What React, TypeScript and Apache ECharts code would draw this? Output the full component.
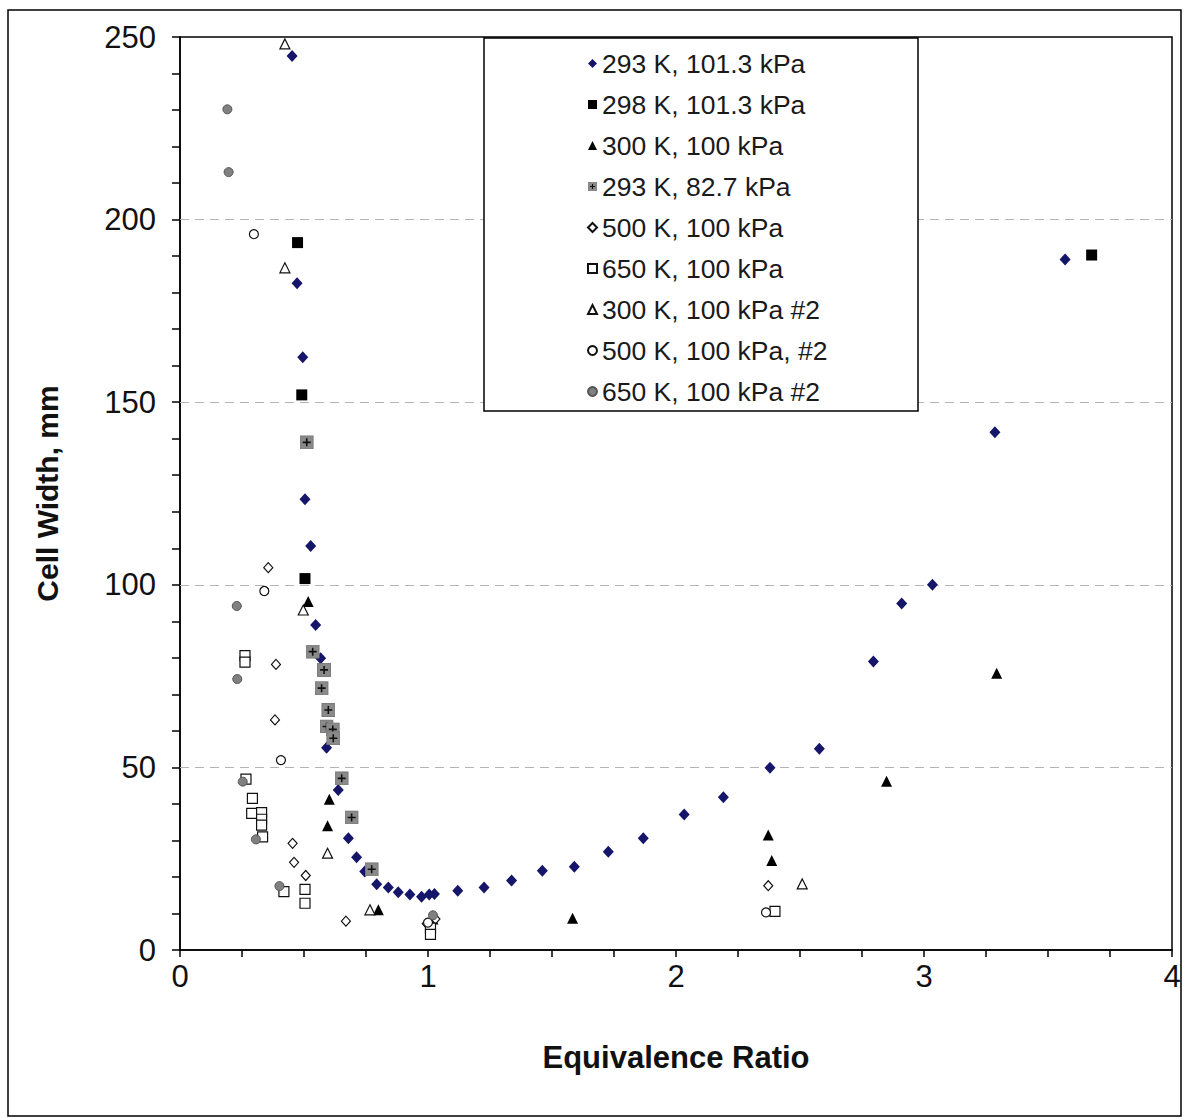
import React, { useEffect, useRef } from "react";
import * as echarts from "echarts";

const FONT = "'Liberation Sans', Arial, sans-serif";

const seriesNames = [
  "293 K, 101.3 kPa",
  "298 K, 101.3 kPa",
  "300 K, 100 kPa",
  "293 K, 82.7 kPa",
  "500 K, 100 kPa",
  "650 K, 100 kPa",
  "300 K, 100 kPa #2",
  "500 K, 100 kPa, #2",
  "650 K, 100 kPa #2",
];

const xTicks = [0, 1, 2, 3, 4];
const yTicks = [0, 50, 100, 150, 200, 250];
const gridValues = [50, 100, 150, 200];

const s293_1013 = [
  [0.452, 244.8], [0.472, 182.6], [0.495, 162.3], [0.504, 123.4], [0.527, 110.6],
  [0.547, 89.0], [0.567, 79.9], [0.591, 55.4], [0.638, 43.8], [0.679, 30.6],
  [0.712, 25.4], [0.745, 21.5], [0.793, 18.0], [0.84, 17.1], [0.88, 15.8], [0.927, 15.2],
  [0.974, 14.6], [1.005, 15.2], [1.026, 15.3], [1.12, 16.2], [1.226, 17.1],
  [1.337, 19.0], [1.461, 21.7], [1.59, 22.8], [1.727, 26.9], [1.868, 30.6],
  [2.033, 37.1], [2.191, 41.8], [2.379, 49.9], [2.578, 55.1], [2.796, 79.0],
  [2.91, 94.9], [3.034, 100.0], [3.286, 141.8], [3.569, 189.1],
];
const s298_1013 = [[0.474, 193.7], [0.491, 152.0], [0.504, 101.7], [3.676, 190.3]];
const s300_100 = [
  [0.517, 95.4], [0.602, 41.3], [0.595, 34.0], [0.8, 11.0], [1.02, 8.5],
  [1.583, 8.7], [2.372, 31.5], [2.386, 24.5], [2.849, 46.2], [3.293, 75.8],
];
const s293_827 = [
  [0.511, 139.0], [0.535, 81.7], [0.581, 76.7], [0.571, 71.7], [0.598, 65.7],
  [0.591, 61.2], [0.616, 60.4], [0.618, 58.0], [0.652, 47.0], [0.692, 36.3], [0.773, 22.1],
];
const s500_100 = [
  [0.356, 104.7], [0.387, 78.2], [0.383, 63.0], [0.454, 29.2], [0.46, 24.0],
  [0.507, 20.4], [0.669, 7.9], [0.995, 7.2], [1.03, 8.5], [2.372, 17.6],
];
const s650_100 = [
  [0.262, 80.6], [0.262, 78.8], [0.266, 46.8], [0.292, 41.5], [0.289, 37.4],
  [0.329, 37.6], [0.329, 35.8], [0.329, 34.2], [0.333, 31.0], [0.419, 16.0],
  [0.504, 16.6], [0.504, 12.8], [1.01, 6.0], [1.01, 4.3], [2.399, 10.6],
];
const s300_100_2 = [[0.423, 248.1], [0.423, 186.8], [0.497, 93.1], [0.595, 26.5], [0.766, 11.0], [2.509, 18.1]];
const s500_100_2 = [[0.298, 196.0], [0.34, 98.3], [0.407, 52.0], [1.0, 7.5], [2.363, 10.3]];
const s650_100_2 = [
  [0.191, 230.2], [0.196, 213.0], [0.229, 94.2], [0.231, 74.2], [0.253, 46.1],
  [0.306, 30.3], [0.401, 17.5], [1.02, 9.5],
];

const plusSvg =
  "<svg xmlns='http://www.w3.org/2000/svg' width='14' height='14' viewBox='0 0 14 14'>" +
  "<rect x='0.5' y='0.5' width='13' height='13' fill='#8a8a8a' stroke='#777'/>" +
  "<path d='M7 3V11M3 7H11' stroke='#111' stroke-width='1.6'/></svg>";
const plusSymbol = "image://data:image/svg+xml;charset=utf-8," + encodeURIComponent(plusSvg);

export default function App() {
  const ref = useRef<HTMLDivElement>(null);
  useEffect(() => {
    document.body.style.margin = "0";
    const chart = echarts.init(ref.current!, null, { renderer: "svg" });
    const open = { color: "#fff", borderColor: "#111", borderWidth: 1.2, opacity: 1 };
    const option: any = {
      animation: false,
      backgroundColor: "#fff",
      textStyle: { fontFamily: FONT },
      grid: {
        left: 180, top: 37, right: 13, bottom: 168,
        show: true, borderColor: "#000", borderWidth: 1.5, backgroundColor: "transparent",
      },
      xAxis: {
        type: "value", min: 0, max: 4, interval: 0.25,
        name: "Equivalence Ratio", nameLocation: "middle", nameGap: 92,
        nameTextStyle: { fontSize: 31, fontWeight: "bold", color: "#111", fontFamily: FONT },
        axisLine: { lineStyle: { color: "#000", width: 1.5 } },
        axisTick: { show: true, length: 7, lineStyle: { color: "#000", width: 1.5 } },
        axisLabel: {
          margin: 11, fontSize: 31, color: "#111", fontFamily: FONT,
          formatter: (v: number) => (xTicks.includes(v) ? String(v) : ""),
        },
        splitLine: { show: false },
      },
      yAxis: {
        type: "value", min: 0, max: 250, interval: 10,
        name: "Cell Width, mm", nameLocation: "middle", nameGap: 118,
        nameTextStyle: { fontSize: 30, fontWeight: "bold", color: "#111", fontFamily: FONT },
        axisLine: { lineStyle: { color: "#000", width: 1.5 } },
        axisTick: { show: true, length: 8, lineStyle: { color: "#000", width: 1.5 } },
        axisLabel: {
          margin: 24, fontSize: 31, color: "#111", fontFamily: FONT,
          formatter: (v: number) => (yTicks.includes(v) ? String(v) : ""),
        },
        splitLine: { show: false },
      },
      legend: {
        orient: "vertical", left: 587, top: 50, padding: 0,
        itemWidth: 9, itemHeight: 9, itemGap: 14,
        textStyle: { fontSize: 26.5, color: "#1a1a1a", fontFamily: FONT, lineHeight: 27 },
        data: seriesNames,
        z: 6,
      },
      graphic: [
        { type: "rect", shape: { x: 8, y: 10, width: 1173, height: 1106 }, style: { fill: "none", stroke: "#000", lineWidth: 1.5 }, z: 0, silent: true },
        { type: "rect", shape: { x: 484, y: 38, width: 434, height: 373 }, style: { fill: "#fff", stroke: "#000", lineWidth: 1.5 }, z: 5, silent: true },
      ],
      series: [
        {
          name: seriesNames[0], type: "scatter", data: s293_1013, symbol: "diamond", symbolSize: [11, 12],
          itemStyle: { color: "#15156a", opacity: 1 }, z: 3,
          markLine: {
            silent: true, z: 1, symbol: ["none", "none"], label: { show: false },
            lineStyle: { color: "#b4b4b4", type: [9, 6], width: 1 },
            data: gridValues.map((v) => ({ yAxis: v })),
          },
        },
        { name: seriesNames[1], type: "scatter", data: s298_1013, symbol: "rect", symbolSize: 11, itemStyle: { color: "#000", opacity: 1 }, z: 3 },
        { name: seriesNames[2], type: "scatter", data: s300_100, symbol: "triangle", symbolSize: [11, 11], itemStyle: { color: "#000", opacity: 1 }, z: 3 },
        { name: seriesNames[3], type: "scatter", data: s293_827, symbol: plusSymbol, symbolSize: 14, itemStyle: { opacity: 1 }, z: 3 },
        { name: seriesNames[4], type: "scatter", data: s500_100, symbol: "diamond", symbolSize: [9, 10], itemStyle: open, z: 3 },
        { name: seriesNames[5], type: "scatter", data: s650_100, symbol: "rect", symbolSize: 10, itemStyle: open, z: 3 },
        { name: seriesNames[6], type: "scatter", data: s300_100_2, symbol: "triangle", symbolSize: [10, 10], itemStyle: open, z: 3 },
        { name: seriesNames[7], type: "scatter", data: s500_100_2, symbol: "circle", symbolSize: 9, itemStyle: open, z: 3 },
        { name: seriesNames[8], type: "scatter", data: s650_100_2, symbol: "circle", symbolSize: 9, itemStyle: { color: "#808080", borderColor: "#555", borderWidth: 1, opacity: 1 }, z: 3 },
      ],
    };
    chart.setOption(option);
    return () => chart.dispose();
  }, []);
  return <div ref={ref} style={{ width: 1185, height: 1118, background: "#fff" }} />;
}
